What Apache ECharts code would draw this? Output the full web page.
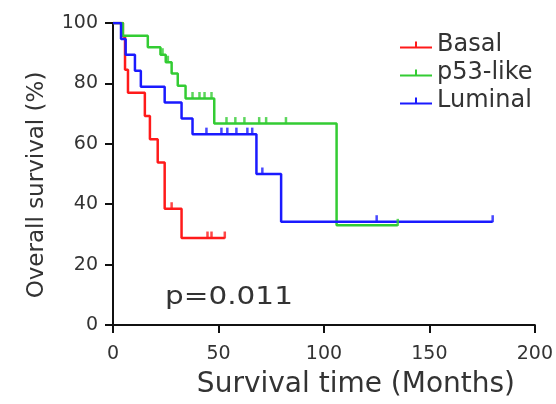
<!DOCTYPE html>
<html>
<head>
<meta charset="utf-8">
<script src="https://cdn.jsdelivr.net/npm/echarts@6/dist/echarts.min.js"></script>
<style>
  html, body { margin: 0; padding: 0; background: #fff; }
  #km { width: 556px; height: 404px; }
</style>
</head>
<body>
<div id="km"></div>
<script>
// axis ticks
var xTicks = [0, 50, 100, 150, 200];
var yTicks = [0, 20, 40, 60, 80, 100];

// Basal
var basalTime = [0, 4.7, 5.7, 7.1, 15.1, 17.5, 21.2, 24.5, 32.5, 53];
var basalSurv = [100, 95.5, 84.5, 76.9, 69.2, 61.5, 53.8, 38.5, 28.8, 28.8];
var basalCensorTime = [27.8, 44.8, 46.7, 53];
var basalCensorSurv = [38.5, 28.8, 28.8, 28.8];

// p53-like
var p53Time = [0, 4.7, 16.5, 22.5, 25, 27.8, 30.7, 34.4, 48, 106, 135];
var p53Surv = [100, 95.8, 92, 89.5, 87, 83.3, 79.2, 75, 66.7, 33, 33];
var p53CensorTime = [23.5, 26, 37.7, 41, 43.4, 46.7, 53.8, 58, 62.3, 69.3, 72.6, 82, 135];
var p53CensorSurv = [89.5, 87, 75, 75, 75, 75, 66.7, 66.7, 66.7, 66.7, 66.7, 66.7, 33];

// Luminal
var lumTime = [0, 3.8, 6, 10.4, 13.2, 24.5, 32.5, 37.7, 68, 79.7, 180];
var lumSurv = [100, 94.7, 89.5, 84.2, 78.9, 73.7, 68.4, 63.2, 50, 34.2, 34.2];
var lumCensorTime = [44.3, 51.4, 54.2, 58.5, 63.7, 66, 70.8, 125, 180];
var lumCensorSurv = [63.2, 63.2, 63.2, 63.2, 63.2, 63.2, 50, 34.2, 34.2];

var groupNames = ['Basal', 'p53-like', 'Luminal'];
var groupColors = ['#ff1a1a', '#33cc33', '#1a1aff'];

function pairs(xs, ys) {
    var out = [];
    for (var i = 0; i < xs.length; i++) {
        out.push([xs[i], ys[i]]);
    }
    return out;
}

function curve(name, color, xs, ys) {
    return {
        name: name,
        type: 'line',
        step: 'end',
        symbol: 'none',
        data: pairs(xs, ys),
        lineStyle: { color: color, width: 2.5 },
        itemStyle: { color: color },
        z: 3
    };
}

// censor ticks: small upright marks sitting on the curve
function censors(color, xs, ys) {
    return {
        type: 'scatter',
        data: pairs(xs, ys),
        symbol: 'rect',
        symbolSize: [2.5, 7],
        symbolOffset: [0, -3],
        itemStyle: { color: color },
        silent: true,
        z: 4
    };
}

var chart = echarts.init(document.getElementById('km'));

var font = 'DejaVu Sans';

var option = {
    animation: false,
    grid: {
        left: 113,
        right: 19,
        top: 23,
        bottom: 78
    },
    legend: {
        data: groupNames,
        orient: 'vertical',
        left: 400,
        top: 33,
        itemWidth: 32,
        itemHeight: 7,
        itemGap: 4,
        padding: 0,
        icon: 'path://M0,5h32v2H0z M15,0h2v5h-2z',
        textStyle: {
            fontFamily: font,
            fontSize: 24,
            color: '#333'
        }
    },
    xAxis: {
        type: 'value',
        min: xTicks[0],
        max: xTicks[xTicks.length - 1],
        interval: 50,
        name: 'Survival time (Months)',
        nameLocation: 'middle',
        nameGap: 46,
        nameTextStyle: {
            fontFamily: font,
            fontSize: 28,
            color: '#333',
            padding: [0, 0, 0, 64]
        },
        splitLine: { show: false },
        axisLine: { lineStyle: { color: '#111', width: 2 } },
        axisTick: { length: 8, lineStyle: { color: '#111', width: 2 } },
        axisLabel: {
            margin: 20,
            fontFamily: font,
            fontSize: 19,
            color: '#333'
        }
    },
    yAxis: {
        type: 'value',
        min: yTicks[0],
        max: yTicks[yTicks.length - 1],
        interval: 20,
        name: 'Overall survival (%)',
        nameLocation: 'middle',
        nameGap: 64,
        nameTextStyle: {
            fontFamily: font,
            fontSize: 23,
            color: '#333',
            padding: [0, 22, 0, 0]
        },
        splitLine: { show: false },
        axisLine: { lineStyle: { color: '#111', width: 2 } },
        axisTick: { length: 8, lineStyle: { color: '#111', width: 2 } },
        axisLabel: {
            margin: 15,
            fontFamily: font,
            fontSize: 19,
            color: '#333'
        }
    },
    graphic: [{
        type: 'text',
        left: 165,
        top: 285,
        scaleX: 1.18,
        style: {
            text: 'p=0.011',
            fontFamily: font,
            fontSize: 25,
            fill: '#333'
        }
    }],
    series: [
        curve(groupNames[0], groupColors[0], basalTime, basalSurv),
        curve(groupNames[1], groupColors[1], p53Time, p53Surv),
        curve(groupNames[2], groupColors[2], lumTime, lumSurv),
        censors(groupColors[0], basalCensorTime, basalCensorSurv),
        censors(groupColors[1], p53CensorTime, p53CensorSurv),
        censors(groupColors[2], lumCensorTime, lumCensorSurv)
    ]
};

chart.setOption(option);
</script>
</body>
</html>
